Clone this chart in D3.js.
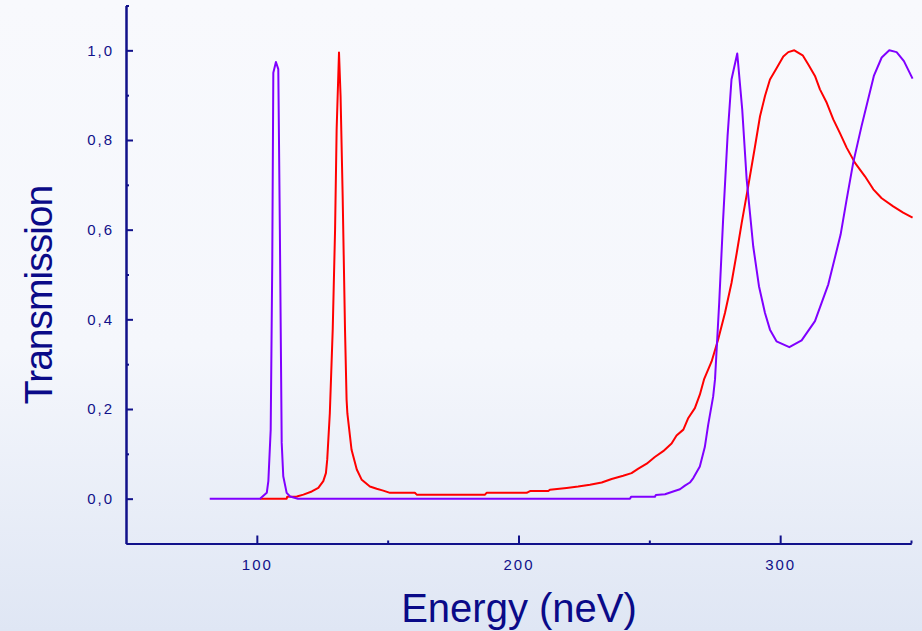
<!DOCTYPE html>
<html>
<head>
<meta charset="utf-8">
<script src="https://cdn.jsdelivr.net/npm/d3@7"></script>
<style>
	body { margin: 0; overflow: hidden; }
	svg { display: block; }
</style>
</head>
<body>
<svg id="chart"></svg>
<script>
// energy (neV), transmission
const red_energy = [101.2, 111.4, 111.6, 115.3, 117.8, 121.0, 123.5, 125.4, 126.4, 126.9, 127.9, 129.0, 129.9, 130.5, 131.4, 132.0, 132.8, 133.7, 134.3, 134.6, 136.2, 138.2, 140.1, 143.2, 145.8, 148.3, 150.9, 160.4, 161.1, 187.2, 187.8, 203.1, 204.4, 211.4, 212.0, 218.4, 222.8, 227.3, 231.8, 235.6, 240.0, 243.2, 245.8, 249.0, 252.1, 255.3, 258.5, 260.4, 263.0, 264.9, 267.4, 269.3, 270.9, 273.8, 276.3, 278.9, 281.4, 283.4, 285.3, 287.8, 290.4, 292.3, 294.2, 296.1, 298.4, 301.2, 303.1, 305.4, 308.6, 310.7, 313.3, 315.2, 317.8, 320.3, 322.8, 325.4, 328.6, 332.4, 335.6, 338.8, 343.2, 347.0, 350.6];
const red_trans = [0.0, 0.0, 0.004, 0.005, 0.009, 0.016, 0.024, 0.039, 0.057, 0.087, 0.191, 0.377, 0.6, 0.824, 0.995, 0.898, 0.675, 0.377, 0.221, 0.19, 0.109, 0.065, 0.042, 0.027, 0.022, 0.018, 0.013, 0.013, 0.009, 0.009, 0.013, 0.013, 0.017, 0.017, 0.02, 0.024, 0.027, 0.031, 0.036, 0.044, 0.051, 0.057, 0.067, 0.078, 0.093, 0.106, 0.123, 0.141, 0.154, 0.18, 0.202, 0.232, 0.266, 0.306, 0.355, 0.414, 0.481, 0.548, 0.615, 0.697, 0.786, 0.853, 0.898, 0.935, 0.958, 0.986, 0.996, 1.0, 0.989, 0.969, 0.943, 0.913, 0.883, 0.846, 0.816, 0.783, 0.749, 0.719, 0.69, 0.67, 0.652, 0.638, 0.627];

const purple_energy = [82.0, 101.2, 103.8, 104.4, 105.3, 105.9, 106.3, 107.3, 108.2, 108.8, 109.5, 110.1, 111.4, 112.7, 115.7, 242.6, 243.0, 252.1, 252.5, 256.0, 259.1, 261.7, 263.6, 265.5, 266.8, 269.3, 271.2, 272.5, 274.4, 275.1, 276.7, 278.2, 279.9, 281.4, 283.6, 285.5, 287.2, 289.7, 291.9, 294.2, 296.1, 298.6, 303.5, 308.2, 313.3, 318.4, 323.1, 325.4, 327.9, 331.1, 335.8, 338.8, 341.7, 344.5, 347.3, 350.6];
const purple_trans = [0.0, 0.0, 0.013, 0.039, 0.154, 0.53, 0.95, 0.974, 0.958, 0.6, 0.125, 0.05, 0.013, 0.005, 0.0, 0.0, 0.004, 0.004, 0.008, 0.01, 0.016, 0.021, 0.029, 0.036, 0.046, 0.072, 0.115, 0.165, 0.228, 0.266, 0.437, 0.623, 0.809, 0.935, 0.993, 0.868, 0.712, 0.563, 0.474, 0.414, 0.377, 0.351, 0.338, 0.353, 0.396, 0.478, 0.589, 0.667, 0.749, 0.831, 0.943, 0.984, 1.0, 0.996, 0.976, 0.937];

const x_major = [100, 200, 300];
const x_minor = [150, 250, 350];
const y_major = [0, 0.2, 0.4, 0.6, 0.8, 1.0];
const y_minor = [0.1, 0.3, 0.5, 0.7, 0.9, 1.1];

const width = 922;
const height = 631;
const axis_color = "#11118a";
const font = "'Liberation Sans', Arial, sans-serif";

const svg = d3.select("#chart")
	.attr("width", width)
	.attr("height", height);

// background gradient
const grad = svg.append("defs").append("linearGradient")
	.attr("id", "bg")
	.attr("x1", 0).attr("y1", 0)
	.attr("x2", 0).attr("y2", 1);
grad.append("stop").attr("offset", "0%").attr("stop-color", "#f8f9fd");
grad.append("stop").attr("offset", "55%").attr("stop-color", "#f5f7fc");
grad.append("stop").attr("offset", "100%").attr("stop-color", "#dfe6f4");

svg.append("rect")
	.attr("width", width)
	.attr("height", height)
	.attr("fill", "url(#bg)");

const x = d3.scaleLinear().domain([50, 350]).range([126, 911]);
const y = d3.scaleLinear().domain([-0.1, 1.1]).range([543.5, 5.5]);

const fmt_y = d => d3.format(".1f")(d).replace(".", ",");

// x axis
const gx = svg.append("g").attr("transform", `translate(0,${y(-0.1)})`);
gx.call(d3.axisBottom(x).tickValues(x_minor).tickSize(-3).tickSizeOuter(0).tickFormat(""));
gx.call(g => g.append("g").call(d3.axisBottom(x).tickValues(x_major).tickSize(-8).tickSizeOuter(0).tickPadding(16).tickFormat(d3.format("d"))));

// y axis
const gy = svg.append("g").attr("transform", `translate(${x(50)},0)`);
gy.call(d3.axisLeft(y).tickValues(y_minor).tickSize(-3).tickSizeOuter(0).tickFormat(""));
gy.call(g => g.append("g").call(d3.axisLeft(y).tickValues(y_major).tickSize(-7).tickSizeOuter(0).tickPadding(12).tickFormat(fmt_y)));

svg.selectAll(".domain, .tick line")
	.attr("stroke", axis_color)
	.attr("stroke-width", 2);

svg.selectAll(".tick text")
	.attr("fill", axis_color)
	.style("font-family", font)
	.style("font-size", "15px")
	.style("letter-spacing", "2px");

// curves
const line = d3.line()
	.x(d => x(d[0]))
	.y(d => y(d[1]));

svg.append("path")
	.datum(d3.zip(red_energy, red_trans))
	.attr("fill", "none")
	.attr("stroke", "#ff0000")
	.attr("stroke-width", 2)
	.attr("stroke-linejoin", "round")
	.attr("d", line);

svg.append("path")
	.datum(d3.zip(purple_energy, purple_trans))
	.attr("fill", "none")
	.attr("stroke", "#8000ff")
	.attr("stroke-width", 2)
	.attr("stroke-linejoin", "round")
	.attr("d", line);

// titles
svg.append("text")
	.attr("x", 519)
	.attr("y", 622)
	.attr("text-anchor", "middle")
	.attr("fill", "#0a0a88")
	.style("font-family", font)
	.style("font-size", "40px")
	.text("Energy (neV)");

svg.append("text")
	.attr("transform", "translate(52,295) rotate(-90)")
	.attr("text-anchor", "middle")
	.attr("fill", "#0a0a88")
	.style("font-family", font)
	.style("font-size", "39px")
	.style("letter-spacing", "-1px")
	.text("Transmission");
</script>
</body>
</html>
